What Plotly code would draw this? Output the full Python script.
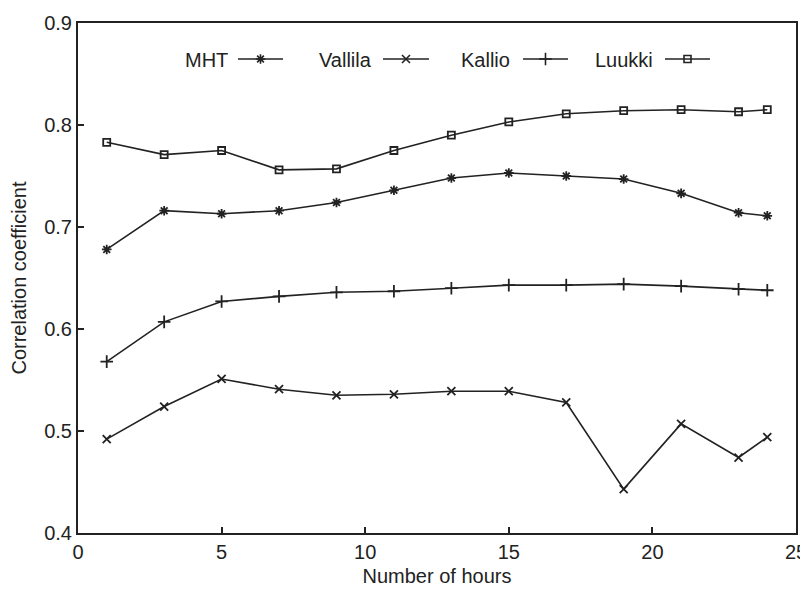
import plotly.graph_objects as go

hours = [1, 3, 5, 7, 9, 11, 13, 15, 17, 19, 21, 23, 24]
mht = [0.678, 0.716, 0.713, 0.716, 0.724, 0.736, 0.748, 0.753, 0.750, 0.747, 0.733, 0.714, 0.711]
vallila = [0.492, 0.524, 0.551, 0.541, 0.535, 0.536, 0.539, 0.539, 0.528, 0.443, 0.507, 0.474, 0.494]
kallio = [0.568, 0.607, 0.627, 0.632, 0.636, 0.637, 0.640, 0.643, 0.643, 0.644, 0.642, 0.639, 0.638]
luukki = [0.783, 0.771, 0.775, 0.756, 0.757, 0.775, 0.790, 0.803, 0.811, 0.814, 0.815, 0.813, 0.815]

names = ["MHT", "Vallila", "Kallio", "Luukki"]
series = [mht, vallila, kallio, luukki]
symbols = ["asterisk-open", "x-thin-open", "cross-thin-open", "square-open"]
msizes = [8, 8, 9, 7]

x_ticks = [0, 5, 10, 15, 20, 25]
y_ticks = [0.4, 0.5, 0.6, 0.7, 0.8, 0.9]

INK = "#222222"
FONT = "Liberation Sans"
OFF = 8  # page body margin in the browser
W, H = 808 - OFF, 591 - OFF
# plot area in page pixels
L, R, T, B = 78, 796, 23, 533

fig = go.Figure()
for name, ys, sym, ms in zip(names, series, symbols, msizes):
    fig.add_trace(go.Scatter(
        x=hours, y=ys, mode="lines+markers", name=name, showlegend=False,
        line=dict(color=INK, width=1.6),
        marker=dict(symbol=sym, size=ms, color=INK, line=dict(color=INK, width=1.8)),
    ))

# custom legend (label then line sample), in page pixel coordinates on an overlay axis
leg_text_x = [183, 317, 459, 593]
leg_line = [(238, 283), (383, 429), (523, 568), (665, 710)]
leg_y = 59
for name, sym, ms, tx, (x0, x1) in zip(names, symbols, msizes, leg_text_x, leg_line):
    fig.add_trace(go.Scatter(
        x=[x0, (x0 + x1) / 2, x1], y=[leg_y] * 3, mode="lines", showlegend=False,
        xaxis="x2", yaxis="y2", line=dict(color=INK, width=1.6), hoverinfo="skip"))
    fig.add_trace(go.Scatter(
        x=[(x0 + x1) / 2], y=[leg_y], mode="markers", showlegend=False,
        xaxis="x2", yaxis="y2", hoverinfo="skip",
        marker=dict(symbol=sym, size=ms, color=INK, line=dict(color=INK, width=1.6))))
    fig.add_annotation(x=tx, y=leg_y + 1, xref="x2", yref="y2", text=name, showarrow=False,
                       xanchor="left", yanchor="middle",
                       font=dict(family=FONT, size=20, color=INK))

fig.update_layout(
    width=W, height=H,
    margin=dict(l=L - OFF, r=808 - R, t=T - OFF, b=591 - B, pad=0),
    paper_bgcolor="white", plot_bgcolor="white",
    font=dict(family=FONT, size=20, color=INK),
    xaxis=dict(range=[0, 25], tickvals=x_ticks, ticks="inside", ticklen=6, tickwidth=1.5,
               tickcolor=INK, showgrid=False, zeroline=False, showline=True, linecolor=INK,
               linewidth=2, mirror=True, automargin=False,
               tickfont=dict(size=20),
               title=dict(text="Number of hours", font=dict(size=20), standoff=7)),
    yaxis=dict(range=[0.4, 0.9], tickvals=y_ticks, tickformat=".1f", ticks="inside",
               ticklen=6, tickwidth=1.5, tickcolor=INK, showgrid=False, zeroline=False,
               showline=True, linecolor=INK, linewidth=2, mirror=True, automargin=False,
               tickfont=dict(size=20),
               title=dict(text="Correlation coefficient", font=dict(size=20), standoff=12)),
    xaxis2=dict(range=[L, R], overlaying="x", visible=False, fixedrange=True),
    yaxis2=dict(range=[B, T], overlaying="y", visible=False, fixedrange=True),
)

fig.write_html("out.html")
